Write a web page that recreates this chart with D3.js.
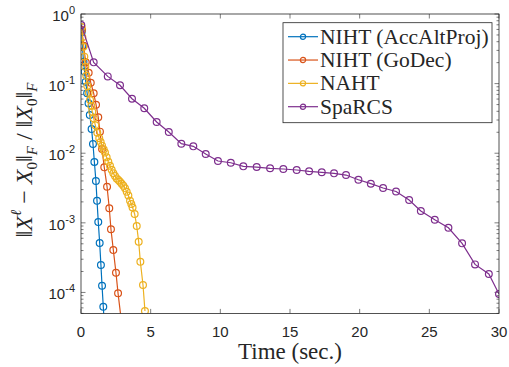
<!DOCTYPE html>
<html>
<head>
<meta charset="utf-8">
<script src="https://cdn.jsdelivr.net/npm/d3@7"></script>
<style>
  body { margin: 0; background: #fff; }
  svg { display: block; }
</style>
</head>
<body>
<svg id="chart" width="509" height="367"></svg>
<script>
// series names + colours (matlab defaults)
const seriesNames = ["NIHT (AccAltProj)", "NIHT (GoDec)", "NAHT", "SpaRCS"];
const seriesColors = ["#0072BD", "#D95319", "#EDB120", "#7E2F8E"];

// values
const timeAccAlt = [0.05, 0.10, 0.18, 0.26, 0.34, 0.44, 0.54, 0.63, 0.76, 0.86, 0.96, 1.07, 1.15, 1.24, 1.34, 1.43, 1.51, 1.60, 1.69];
const errAccAlt = [0.55, 0.347, 0.206, 0.148, 0.106, 0.0726, 0.0521, 0.0354, 0.0223, 0.01355, 0.00748, 0.00399, 0.00207, 0.001025, 0.000513, 0.000248, 0.000125, 0.0000623, 0.000031];

const timeGoDec = [0.07, 0.19, 0.34, 0.55, 0.70, 0.91, 1.08, 1.24, 1.36, 1.51, 1.67, 1.87, 2.03, 2.15, 2.32, 2.51, 2.66, 2.89];
const errGoDec = [0.589, 0.35, 0.202, 0.143, 0.103, 0.0726, 0.0498, 0.0328, 0.0204, 0.0115, 0.00627, 0.0033, 0.00162, 0.000807, 0.000407, 0.000192, 0.0000971, 0.00004];

const timeNAHT = [0.05, 0.10, 0.17, 0.24, 0.31, 0.38, 0.45, 0.55, 0.65, 0.74, 0.81, 0.91, 1.03, 1.17, 1.31, 1.41, 1.51, 1.63, 1.72, 1.84, 1.96, 2.08, 2.20, 2.32, 2.44, 2.56, 2.68, 2.80, 2.92, 3.04, 3.16, 3.28, 3.40, 3.52, 3.61, 3.70, 3.85, 4.00, 4.14, 4.26, 4.45, 4.59];
const errNAHT = [0.65, 0.463, 0.339, 0.244, 0.175, 0.13, 0.0924, 0.074, 0.058, 0.0477, 0.0394, 0.0317, 0.0252, 0.0197, 0.0164, 0.0145, 0.0128, 0.0113, 0.0102, 0.00873, 0.00755, 0.0066, 0.0058, 0.00514, 0.0047, 0.00435, 0.00412, 0.00389, 0.00365, 0.00341, 0.00313, 0.0028, 0.00247, 0.00208, 0.00186, 0.00166, 0.00134, 0.0009, 0.000535, 0.000276, 0.000128, 0.000054];

const timeSpaRCS = [0.02, 0.91, 1.92, 2.80, 3.66, 4.54, 5.43, 6.30, 7.20, 8.06, 8.95, 9.83, 10.75, 11.65, 12.61, 13.57, 14.52, 15.48, 16.37, 17.28, 18.16, 19.02, 19.91, 20.80, 21.68, 22.61, 23.55, 24.39, 25.39, 26.37, 27.35, 28.28, 29.27, 30.0];
const errSpaRCS = [0.695, 0.202, 0.127, 0.0946, 0.0607, 0.0442, 0.0281, 0.0202, 0.0137, 0.01256, 0.00975, 0.00773, 0.0073, 0.00648, 0.00633, 0.00607, 0.00593, 0.00574, 0.0055, 0.00532, 0.00514, 0.00486, 0.00416, 0.00365, 0.00316, 0.00282, 0.00213, 0.00148, 0.00111, 0.00085, 0.000507, 0.000253, 0.000184, 0.0000948];

const xTicks = [0, 5, 10, 15, 20, 25, 30];
const yTickExps = [0, -1, -2, -3, -4];

const seriesTimes = [timeAccAlt, timeGoDec, timeNAHT, timeSpaRCS];
const seriesErrs = [errAccAlt, errGoDec, errNAHT, errSpaRCS];

const plotLeft = 81, plotRight = 499, plotTop = 14, plotBottom = 313.4;
const axisColor = "#262626";

const svg = d3.select("#chart");

const x = d3.scaleLinear().domain([0, 30]).range([plotLeft, plotRight]);
const y = d3.scaleLog().domain([5e-5, 1]).range([plotBottom, plotTop]);

svg.append("defs").append("clipPath").attr("id", "plotclip")
  .append("rect")
  .attr("x", plotLeft).attr("y", plotTop)
  .attr("width", plotRight - plotLeft).attr("height", plotBottom - plotTop);

// minor log ticks
const minorVals = [];
for (let e = -5; e < 0; e++) {
  for (let m = 2; m <= 9; m++) {
    const v = m * Math.pow(10, e);
    if (v >= 5e-5 && v <= 1) minorVals.push(v);
  }
}

const tickG = svg.append("g").attr("stroke", axisColor).attr("stroke-width", 0.6);
// x ticks bottom + top
xTicks.forEach(t => {
  tickG.append("line").attr("x1", x(t)).attr("x2", x(t)).attr("y1", plotBottom).attr("y2", plotBottom - 4.5);
  tickG.append("line").attr("x1", x(t)).attr("x2", x(t)).attr("y1", plotTop).attr("y2", plotTop + 4.5);
});
// y major ticks left + right
yTickExps.forEach(e => {
  const yy = y(Math.pow(10, e));
  tickG.append("line").attr("x1", plotLeft).attr("x2", plotLeft + 4.5).attr("y1", yy).attr("y2", yy);
  tickG.append("line").attr("x1", plotRight).attr("x2", plotRight - 4.5).attr("y1", yy).attr("y2", yy);
});
minorVals.forEach(v => {
  const yy = y(v);
  tickG.append("line").attr("x1", plotLeft).attr("x2", plotLeft + 2.5).attr("y1", yy).attr("y2", yy);
  tickG.append("line").attr("x1", plotRight).attr("x2", plotRight - 2.5).attr("y1", yy).attr("y2", yy);
});

// series
const line = d3.line().x(d => x(d[0])).y(d => y(d[1]));
const plotG = svg.append("g").attr("clip-path", "url(#plotclip)");
seriesNames.forEach((name, i) => {
  const pts = seriesTimes[i].map((t, k) => [t, seriesErrs[i][k]]);
  plotG.append("path")
    .datum(pts)
    .attr("d", line)
    .attr("fill", "none")
    .attr("stroke", seriesColors[i])
    .attr("stroke-width", 1.2);
  plotG.selectAll(null)
    .data(pts)
    .enter()
    .append("circle")
    .attr("cx", d => x(d[0]))
    .attr("cy", d => y(d[1]))
    .attr("r", 3.4)
    .attr("fill", "none")
    .attr("stroke", seriesColors[i])
    .attr("stroke-width", 1.2);
});

// axes box
svg.append("rect")
  .attr("x", plotLeft).attr("y", plotTop)
  .attr("width", plotRight - plotLeft).attr("height", plotBottom - plotTop)
  .attr("fill", "none").attr("stroke", axisColor).attr("stroke-width", 0.8);

// tick labels
const sans = "'Liberation Sans', Arial, Helvetica, sans-serif";
svg.append("g").selectAll("text")
  .data(xTicks)
  .enter()
  .append("text")
  .attr("x", d => x(d))
  .attr("y", 337)
  .attr("text-anchor", "middle")
  .attr("font-family", sans)
  .attr("font-size", 15)
  .attr("fill", axisColor)
  .text(d => d);

yTickExps.forEach(e => {
  const t = svg.append("text")
    .attr("x", 75)
    .attr("y", y(Math.pow(10, e)) + 7)
    .attr("text-anchor", "end")
    .attr("font-family", sans)
    .attr("font-size", 15)
    .attr("fill", axisColor);
  t.append("tspan").text("10");
  t.append("tspan").attr("dy", -7).attr("font-size", 11).text(e === 0 ? "0" : "-" + (-e));
});

// axis titles
const serif = "'Liberation Serif', 'Times New Roman', serif";
svg.append("text")
  .attr("x", (plotLeft + plotRight) / 2)
  .attr("y", 359)
  .attr("text-anchor", "middle")
  .attr("font-family", serif)
  .attr("font-size", 23)
  .attr("fill", axisColor)
  .text("Time (sec.)");

const ylab = svg.append("text")
  .attr("transform", "translate(32," + 160 + ") rotate(-90)")
  .attr("text-anchor", "middle")
  .attr("font-family", serif)
  .attr("font-size", 24)
  .attr("fill", axisColor);
ylab.append("tspan").text("‖");
ylab.append("tspan").attr("font-style", "italic").text("X");
ylab.append("tspan").attr("font-style", "italic").attr("font-size", 15).attr("dy", -11).text("ℓ");
ylab.append("tspan").attr("dy", 11).text(" − ");
ylab.append("tspan").attr("font-style", "italic").text("X");
ylab.append("tspan").attr("font-size", 15).attr("dy", 5).text("0");
ylab.append("tspan").attr("dy", -5).text("‖");
ylab.append("tspan").attr("font-style", "italic").attr("font-size", 15).attr("dy", 5).text("F");
ylab.append("tspan").attr("dy", -5).text(" / ‖");
ylab.append("tspan").attr("font-style", "italic").text("X");
ylab.append("tspan").attr("font-size", 15).attr("dy", 5).text("0");
ylab.append("tspan").attr("dy", -5).text("‖");
ylab.append("tspan").attr("font-style", "italic").attr("font-size", 15).attr("dy", 5).text("F");

// legend
const legX = 283, legY = 22.7, legW = 209, legH = 100;
svg.append("rect")
  .attr("x", legX).attr("y", legY)
  .attr("width", legW).attr("height", legH)
  .attr("fill", "#fff").attr("stroke", axisColor).attr("stroke-width", 0.8);

const legRow = d3.scaleLinear().domain([0, 3]).range([36.7, 106.7]);
const legG = svg.append("g").selectAll("g")
  .data(seriesNames)
  .enter()
  .append("g")
  .attr("transform", (d, i) => "translate(0," + legRow(i) + ")");
legG.append("line")
  .attr("x1", 288).attr("x2", 318).attr("y1", 0).attr("y2", 0)
  .attr("stroke", (d, i) => seriesColors[i]).attr("stroke-width", 1.2);
legG.append("circle")
  .attr("cx", 303).attr("cy", 0).attr("r", 2.6)
  .attr("fill", "none")
  .attr("stroke", (d, i) => seriesColors[i]).attr("stroke-width", 1.2);
legG.append("text")
  .attr("x", 320).attr("y", 7)
  .attr("font-family", serif)
  .attr("font-size", 21.5)
  .attr("fill", axisColor)
  .text(d => d);
</script>
</body>
</html>
